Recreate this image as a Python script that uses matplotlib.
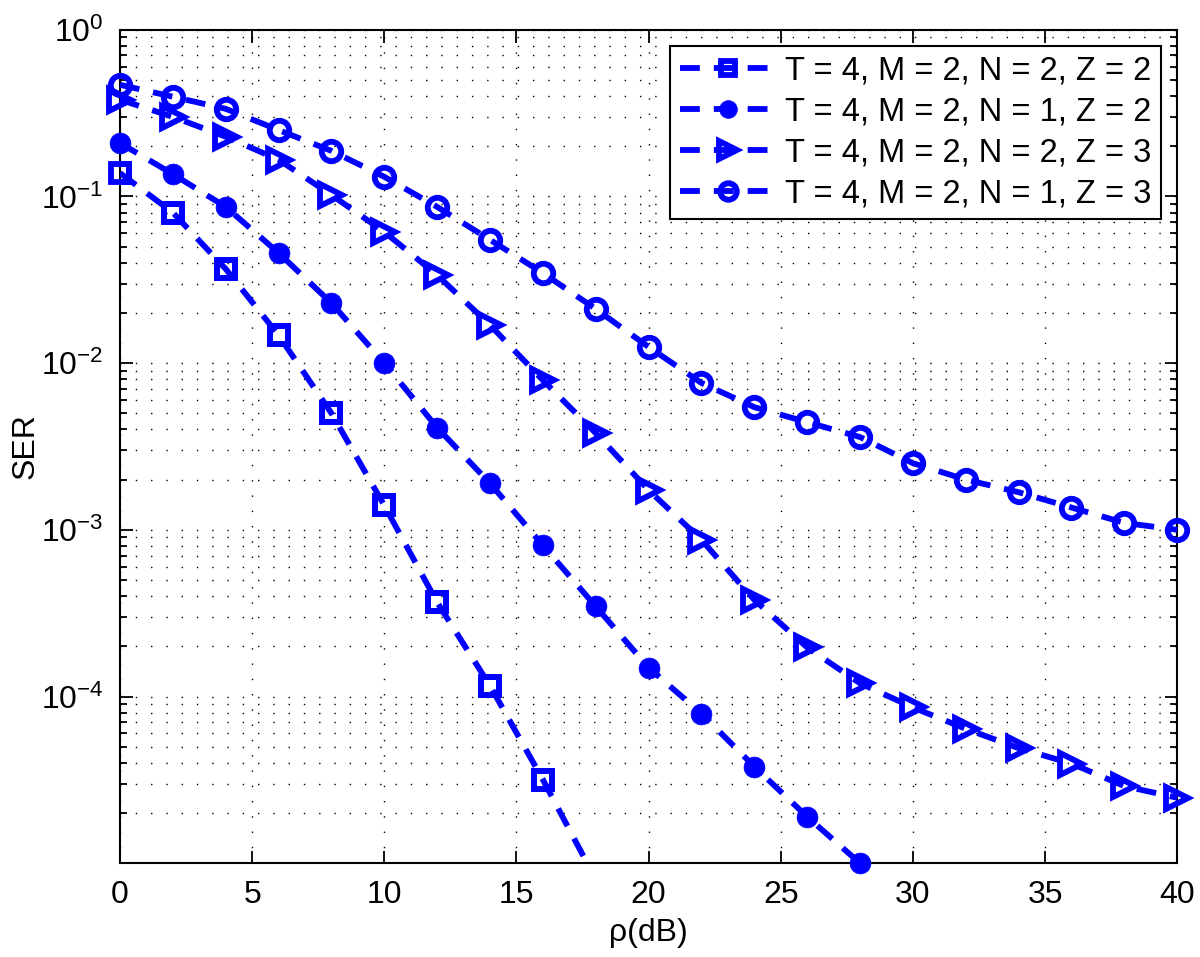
import numpy as np
import matplotlib
matplotlib.use('Agg')
import matplotlib.pyplot as plt
from matplotlib.ticker import LogLocator, NullFormatter

plt.rcParams['font.family'] = ['Liberation Sans', 'DejaVu Sans']
plt.rcParams['mathtext.fontset'] = 'custom'
plt.rcParams['mathtext.rm'] = 'Liberation Sans'
plt.rcParams['mathtext.default'] = 'regular'

# SNR points (dB)
snr = [0, 2, 4, 6, 8, 10, 12, 14, 16, 18, 20, 22, 24, 26, 28, 30, 32, 34, 36, 38, 40]

# SER curves
ser_n2_z2 = [0.138, 0.080, 0.0367, 0.0147, 0.0050, 0.0014, 3.67e-4, 1.16e-4, 3.17e-5, 8e-6]
ser_n1_z2 = [0.209, 0.136, 0.0865, 0.0458, 0.0229, 0.0100, 0.0041, 0.0019, 8.07e-4,
             3.47e-4, 1.49e-4, 7.9e-5, 3.8e-5, 1.9e-5, 1.0e-5]
ser_n2_z3 = [0.38, 0.30, 0.228, 0.166, 0.102, 0.0612, 0.0337, 0.0169, 0.0079, 0.0038,
             0.00173, 8.7e-4, 3.8e-4, 1.97e-4, 1.2e-4, 8.6e-5, 6.4e-5, 4.9e-5, 3.96e-5,
             2.9e-5, 2.47e-5]
ser_n1_z3 = [0.467, 0.396, 0.335, 0.25, 0.1875, 0.131, 0.0865, 0.0549, 0.0347, 0.0211,
             0.0125, 0.0076, 0.00544, 0.00442, 0.0036, 0.00251, 0.0020, 0.00168, 0.00136,
             0.00110, 0.0010]

labels = ['T = 4, M = 2, N = 2, Z = 2',
          'T = 4, M = 2, N = 1, Z = 2',
          'T = 4, M = 2, N = 2, Z = 3',
          'T = 4, M = 2, N = 1, Z = 3']

ymin, ymax = 1e-5, 1.0
blue = (0, 0, 1)
lw = 4.2
dash = [3.4, 2.4]

fig = plt.figure(figsize=(12, 9.57), dpi=100)
ax = fig.add_axes([0.1, 0.098, 0.881, 0.871])
ax.set_yscale('log')

# squares: line is clipped at the bottom, markers drawn only inside the range
x1 = np.array(snr[:len(ser_n2_z2)])
y1 = np.array(ser_n2_z2)
ax.plot(x1, y1, color=blue, lw=lw, dashes=dash, marker='s', ms=12.5, mew=lw,
        mfc='none', label=labels[0], zorder=3)
keep = y1 >= ymin
ax.plot(x1[keep], y1[keep], ls='none', color=blue, marker='s', ms=12.5, mew=lw,
        mfc='none', clip_on=False, zorder=3)

ax.plot(snr[:len(ser_n1_z2)], ser_n1_z2, color=blue, lw=lw, dashes=dash, marker='o',
        ms=15, mew=0.5, mfc=blue, label=labels[1], clip_on=False, zorder=3)
ax.plot(snr, ser_n2_z3, color=blue, lw=lw, dashes=dash, marker='>', ms=16, mew=lw,
        mfc='none', label=labels[2], clip_on=False, zorder=3)
ax.plot(snr, ser_n1_z3, color=blue, lw=lw, dashes=dash, marker='o', ms=14, mew=lw,
        mfc='none', label=labels[3], clip_on=False, zorder=3)

ax.set_xlim(0, 40)
ax.set_ylim(ymin, ymax)
ax.set_xticks(range(0, 41, 5))
ax.set_yticks([1e-4, 1e-3, 1e-2, 1e-1, 1e0])
ax.yaxis.set_minor_locator(LogLocator(base=10, subs=np.arange(2, 10), numticks=20))
ax.yaxis.set_minor_formatter(NullFormatter())

ax.grid(True, which='major', axis='both', color='k', lw=1.0, ls=(0, (1, 10)))
ax.grid(True, which='minor', axis='y', color='k', lw=1.0, ls=(0, (1, 10)))

ax.tick_params(which='both', direction='in', top=True, right=True, labelsize=23,
               width=1.3, colors='k')
ax.tick_params(which='major', length=9, pad=12)
ax.tick_params(which='minor', length=5)
for s in ax.spines.values():
    s.set_linewidth(1.5)

ax.set_xlabel('ρ(dB)', fontsize=23, labelpad=6)
ax.set_ylabel('SER', fontsize=23)
ax.yaxis.set_label_coords(-0.075, 0.5)

leg = ax.legend(loc='upper right', fontsize=23.5, handlelength=2.9, labelspacing=0.3,
                borderaxespad=0.5, handletextpad=0.3, fancybox=False, framealpha=1,
                edgecolor='k', borderpad=0.3, markerscale=0.85)
leg.get_frame().set_linewidth(1.5)

fig.savefig('out.png', dpi=100)
